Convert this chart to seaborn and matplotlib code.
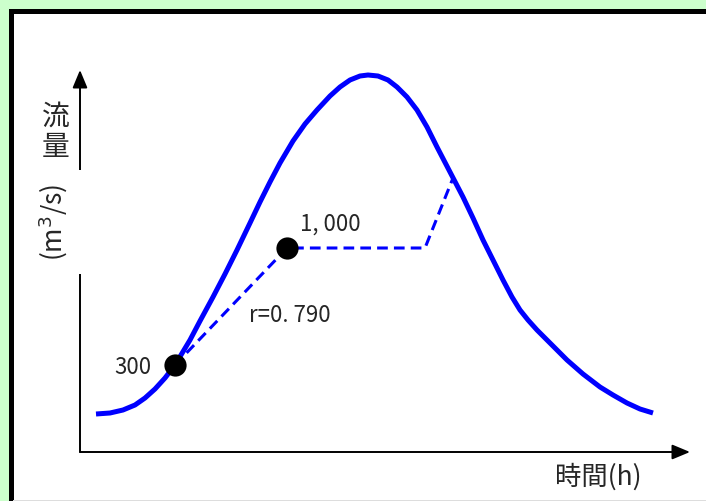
# hydrograph_sketch.py

# ====== IMPORTS ======
import pandas as pd
import seaborn as sns
import matplotlib.pyplot as plt
from matplotlib.patches import Rectangle

# ====== DATA ======
# hydrograph (time and flow in arbitrary chart units)
time_h = [16, 30, 43, 55, 65, 75, 85, 95, 110, 120, 133, 145, 157, 170, 180,
          190, 200, 213, 225, 237, 250, 260, 270, 280, 288, 298, 308, 317, 327,
          337, 347, 357, 370, 383, 393, 403, 413, 423, 432, 440, 448, 457, 472,
          487, 503, 520, 533, 547, 560, 573]
flow = [38, 39, 42, 47, 54, 63, 74, 87, 112, 131, 155, 178, 202, 229, 250,
        270, 289, 311, 328, 342, 356, 365, 372, 376, 377, 376, 372, 365, 355,
        342, 325, 305, 280, 255, 234, 212, 192, 172, 155, 142, 132, 122, 107,
        92, 78, 65, 57, 49, 43, 39]

# dashed separation line: start point, peak point, plateau end, back on curve
sep_time = [95, 207, 345, 373]
sep_flow = [87, 204, 204, 274]

# the two marked points and their labels
pt_time = [95, 207]
pt_flow = [87, 204]
pt_labels = ["300", "1, 000"]
r_label = "r=0. 790"

x_label = "時間(h)"
y_label_top = "流\n量"
y_label_unit = "(m$^3$/s)"

curve = pd.DataFrame({"t": time_h, "q": flow})
sep = pd.DataFrame({"t": sep_time, "q": sep_flow})
pts = pd.DataFrame({"t": pt_time, "q": pt_flow})

# ====== STYLE ======
sns.set_style("white")
plt.rcParams["font.family"] = ["Noto Sans CJK JP", "DejaVu Sans"]

fig = plt.figure(figsize=(7.06, 5.01), dpi=100, facecolor="#ccffcc")

# white panel with thick black frame (right/bottom run off the image)
fig.patches.append(Rectangle((10.5 / 706, -0.1), 1.2, 1.1 - 10.5 / 501,
                             transform=fig.transFigure, facecolor="white",
                             edgecolor="black", linewidth=3.6, zorder=-2))
fig.patches.append(Rectangle((13 / 706, 0), 1, 1.2 / 501,
                             transform=fig.transFigure, facecolor="#dddddd",
                             edgecolor="none", zorder=-1))

ax = fig.add_axes([80 / 706, 49 / 501, 610 / 706, 382 / 501])
ax.set_facecolor("none")
ax.set_xlim(0, 610)
ax.set_ylim(0, 382)
for s in ax.spines.values():
    s.set_visible(False)
ax.set_xticks([])
ax.set_yticks([])

# ====== AXES ARROWS ======
arrow = dict(arrowstyle="-|>,head_length=0.6,head_width=0.25", color="black",
             lw=1.4, mutation_scale=18, shrinkA=0, shrinkB=0)
ax.annotate("", xy=(1, 0), xytext=(0, 0), xycoords="axes fraction",
            arrowprops=arrow, zorder=1)
ax.annotate("", xy=(0, 1), xytext=(0, 0), xycoords="axes fraction",
            arrowprops=arrow, zorder=1)

# ====== LINES AND POINTS ======
sns.lineplot(data=curve, x="t", y="q", color="#0000ff", linewidth=3.6,
             estimator=None, sort=False, ax=ax, zorder=3,
             solid_joinstyle="round", solid_capstyle="butt")
sns.lineplot(data=sep, x="t", y="q", color="#0000ff", linewidth=2.2,
             linestyle=(0, (3.5, 2)), estimator=None, sort=False, ax=ax, zorder=4)
sns.scatterplot(data=pts, x="t", y="q", color="black", s=256, linewidth=0,
                ax=ax, zorder=5)
ax.set_xlabel("")
ax.set_ylabel("")

# ====== TEXT ======
ax.text(53, 85, pt_labels[0], fontsize=16, ha="center", va="center")
ax.text(250, 228, pt_labels[1], fontsize=16, ha="center", va="center")
ax.text(210, 136, r_label, fontsize=16, ha="center", va="center")

ax.text(518, -25, x_label, fontsize=19, ha="center", va="center", clip_on=False)
ax.text(-24, 320, y_label_top, fontsize=20, ha="center", va="center",
        linespacing=1.0, clip_on=False)
ax.text(-27, 230, y_label_unit, fontsize=19, ha="center", va="center",
        rotation=90, clip_on=False, zorder=6,
        bbox=dict(boxstyle="square,pad=0.5", facecolor="white", edgecolor="none"))

plt.savefig("out.png", dpi=100, facecolor=fig.get_facecolor())
plt.close()
